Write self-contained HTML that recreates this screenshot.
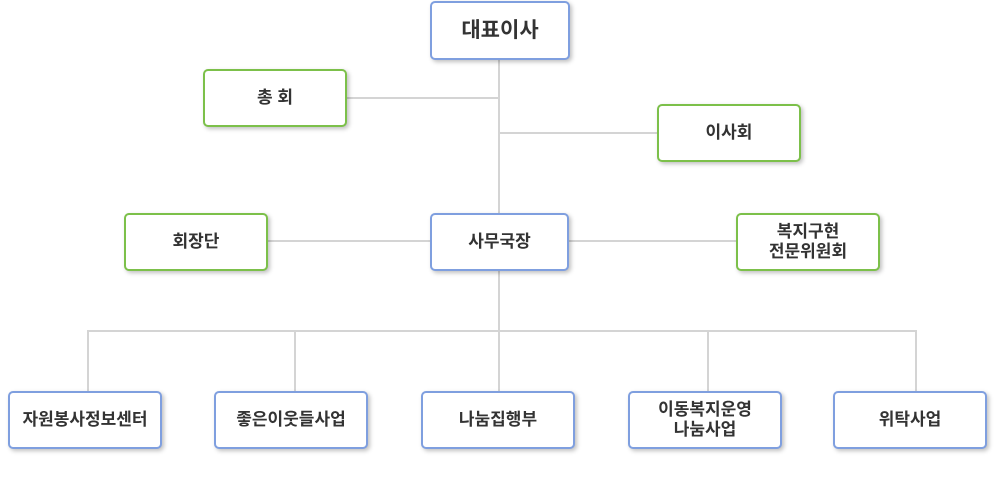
<!DOCTYPE html>
<html><head><meta charset="utf-8"><style>
body{margin:0;width:1000px;height:490px;background:#fff;position:relative;overflow:hidden;font-family:"Liberation Sans","Noto Sans CJK KR",sans-serif}
.b{position:absolute;box-sizing:border-box;border:2px solid #7f9fdf;border-radius:5px;background:#fff;box-shadow:2px 2px 4px rgba(0,0,0,.25);display:flex;align-items:center;justify-content:center;text-align:center;font-size:17px;font-weight:bold;color:#333;line-height:20px}
.g{border-color:#7cc04a}
.l{position:absolute;background:#d4d4d4}
</style></head><body>
<div class="l" style="left:498px;top:60px;width:2px;height:153px"></div>
<div class="l" style="left:347px;top:97px;width:152px;height:2px"></div>
<div class="l" style="left:499px;top:132px;width:158px;height:2px"></div>
<div class="l" style="left:268px;top:240px;width:162px;height:2px"></div>
<div class="l" style="left:569px;top:240px;width:167px;height:2px"></div>
<div class="l" style="left:498px;top:271px;width:2px;height:120px"></div>
<div class="l" style="left:87px;top:330px;width:830px;height:2px"></div>
<div class="l" style="left:87px;top:330px;width:2px;height:61px"></div>
<div class="l" style="left:294px;top:330px;width:2px;height:61px"></div>
<div class="l" style="left:707px;top:330px;width:2px;height:61px"></div>
<div class="l" style="left:915px;top:330px;width:2px;height:61px"></div>
<div class="b" style="left:430px;top:1px;width:140px;height:59px;font-size:21px">대표이사</div>
<div class="b g" style="left:203px;top:69px;width:144px;height:58px">총 회</div>
<div class="b g" style="left:657px;top:104px;width:144px;height:58px">이사회</div>
<div class="b g" style="left:124px;top:213px;width:144px;height:58px">회장단</div>
<div class="b" style="left:430px;top:213px;width:139px;height:58px">사무국장</div>
<div class="b g" style="left:736px;top:213px;width:144px;height:58px">복지구현<br>전문위원회</div>
<div class="b" style="left:8px;top:391px;width:154px;height:58px">자원봉사정보센터</div>
<div class="b" style="left:214px;top:391px;width:154px;height:58px">좋은이웃들사업</div>
<div class="b" style="left:421px;top:391px;width:154px;height:58px">나눔집행부</div>
<div class="b" style="left:628px;top:391px;width:154px;height:58px">이동복지운영<br>나눔사업</div>
<div class="b" style="left:833px;top:391px;width:154px;height:58px">위탁사업</div>
</body></html>
